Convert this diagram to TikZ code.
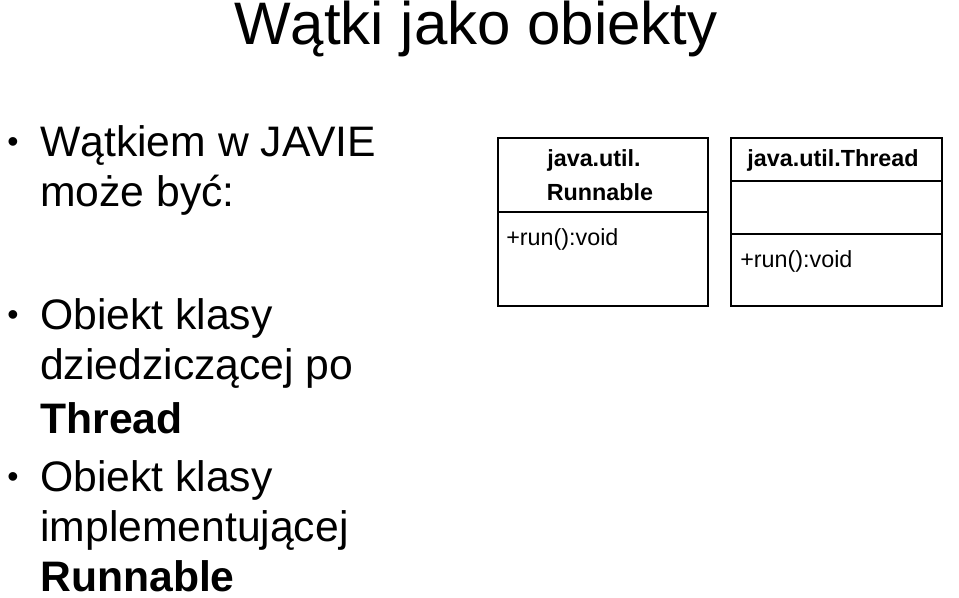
\documentclass[tikz,border=0pt]{standalone}
\usepackage{fontspec}
\setmainfont{Liberation Sans}
\usetikzlibrary{positioning}

\begin{document}
\begin{tikzpicture}[x=0.75pt, y=-0.75pt, txt/.style={anchor=west, inner sep=0pt, font=\fontsize{32}{38}\selectfont}, bul/.style={anchor=center, inner sep=0pt, font=\fontsize{24}{28}\selectfont}, uml/.style={draw, line width=1.4pt}, small/.style={inner sep=0pt, font=\fontsize{17.5}{20}\selectfont}]
    \useasboundingbox (0,0) rectangle (959,597);
    \node[inner sep=0pt, font=\fontsize{45}{50}\selectfont] (title) at (476,29) {Wątki jako obiekty};

    \node[bul] (b1) at (13,145) {•};
    \node[txt] (l1) at (40,145) {Wątkiem w JAVIE};
    \node[txt] (l2) at (40,195) {może być:};
    \node[bul] (b2) at (13,318) {•};
    \node[txt] (l3) at (40,318) {Obiekt klasy};
    \node[txt] (l4) at (40,368) {dziedziczącej po};
    \node[txt] (l5) at (40,418) {\bfseries Thread};
    \node[bul] (b3) at (13,480) {•};
    \node[txt] (l6) at (40,480) {Obiekt klasy};
    \node[txt] (l7) at (40,530) {implementującej};
    \node[txt] (l8) at (40,576) {\bfseries Runnable};

    % Runnable
    \draw[uml] (498,138) rectangle (708,306);
    \draw[uml] (498,212) -- (708,212);
    \node[small] (r1) at (594,160) {\bfseries java.util.};
    \node[small] (r2) at (600,192) {\bfseries Runnable};
    \node[small, anchor=west] (r3) at (506,239) {+run():void};

    % Thread
    \draw[uml] (731,138) rectangle (942,306);
    \draw[uml] (731,181) -- (942,181);
    \draw[uml] (731,234) -- (942,234);
    \node[small] (t1) at (833,160) {\bfseries java.util.Thread};
    \node[small, anchor=west] (t2) at (740,261) {+run():void};
\end{tikzpicture}
\end{document}
